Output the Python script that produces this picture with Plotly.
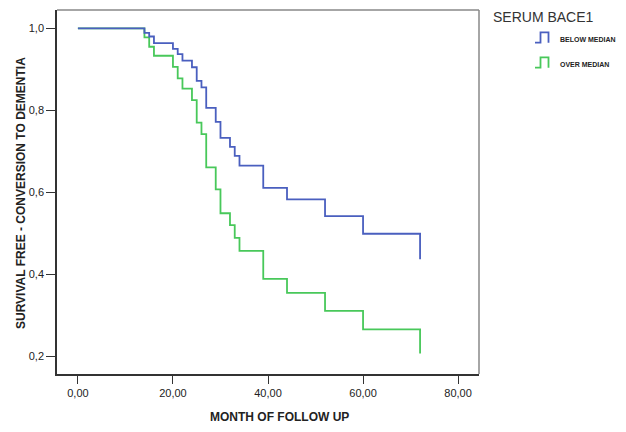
import plotly.graph_objects as go

# Kaplan-Meier step data (months, survival probability)
below_times = [0, 14, 15, 16, 20, 21, 22, 24, 25, 26, 27, 29, 30, 32, 33, 34, 39, 44, 52, 60, 72]
below_surv = [1.0, 0.989, 0.980, 0.964, 0.950, 0.937, 0.921, 0.905, 0.872, 0.856, 0.806,
              0.772, 0.733, 0.711, 0.689, 0.665, 0.611, 0.583, 0.542, 0.499, 0.437]

over_times = [0, 14, 15, 16, 20, 21, 22, 24, 25, 26, 27, 29, 30, 32, 33, 34, 39, 44, 52, 60, 72]
over_surv = [1.0, 0.978, 0.955, 0.933, 0.906, 0.878, 0.853, 0.825, 0.770, 0.742, 0.661,
             0.607, 0.549, 0.520, 0.489, 0.457, 0.389, 0.355, 0.311, 0.266, 0.207]

x_ticks = [0, 20, 40, 60, 80]
x_tick_labels = ["0,00", "20,00", "40,00", "60,00", "80,00"]
y_ticks = [0.2, 0.4, 0.6, 0.8, 1.0]
y_tick_labels = ["0,2", "0,4", "0,6", "0,8", "1,0"]

legend_title = "SERUM BACE1"
series_names = ["BELOW MEDIAN", "OVER MEDIAN"]

BLUE = "#4a5fbf"
GREEN = "#48c85a"
FONT = "Liberation Sans, Arial, sans-serif"

fig = go.Figure()
fig.add_trace(go.Scatter(x=over_times, y=over_surv, mode="lines", line_shape="hv",
                         line=dict(color=GREEN, width=1.8), name=series_names[1], showlegend=False))
fig.add_trace(go.Scatter(x=below_times, y=below_surv, mode="lines", line_shape="hv",
                         line=dict(color=BLUE, width=1.8), name=series_names[0], showlegend=False))

# page has an 8px body margin; figure coordinates = page coordinates - 8
OFF = 8
W, H = 618, 416
L, R, T, B = 57 - OFF, 479 - OFF, 10 - OFF, 374 - OFF


def px(xp):
    # xp in page pixels
    return (xp - OFF - L) / (R - L)


def py(yp):
    return (B - (yp - OFF)) / (B - T)


shapes = []
annotations = []

# legend title (anchored at the very top of the figure)
annotations.append(dict(x=px(492), y=py(8), xref="paper", yref="paper", text=legend_title,
                        showarrow=False, xanchor="left", yanchor="top", borderpad=0,
                        font=dict(family=FONT, size=14, color="#333")))

for i, (name, col) in enumerate(zip(series_names, [BLUE, GREEN])):
    yc = 37.5 + i * 25
    ylo, yhi = yc + 5.2, yc - 5.2
    path = (f"M {px(535)},{py(ylo)} L {px(540.5)},{py(ylo)} L {px(540.5)},{py(yhi)} "
            f"L {px(548.5)},{py(yhi)} L {px(548.5)},{py(ylo)}")
    shapes.append(dict(type="path", xref="paper", yref="paper", path=path,
                       line=dict(color=col, width=1.8)))
    annotations.append(dict(x=px(558), y=py(yc + 1.5), xref="paper", yref="paper", text=f"<b>{name}</b>",
                            showarrow=False, xanchor="left", yanchor="middle",
                            font=dict(family=FONT, size=7, color="#222")))

# axis titles
annotations.append(dict(x=px(279), y=py(417), xref="paper", yref="paper",
                        text="<b>MONTH OF FOLLOW UP</b>", showarrow=False,
                        xanchor="center", yanchor="middle",
                        font=dict(family=FONT, size=12, color="#222")))
annotations.append(dict(x=px(21), y=py(193), xref="paper", yref="paper",
                        text="<b>SURVIVAL FREE - CONVERSION TO DEMENTIA</b>", showarrow=False,
                        textangle=-90, xanchor="center", yanchor="middle",
                        font=dict(family=FONT, size=12, color="#222")))

# right and top frame (lighter)
shapes.append(dict(type="line", xref="paper", yref="paper", x0=1, x1=1, y0=0, y1=1,
                   line=dict(color="#888", width=1.5)))
shapes.append(dict(type="line", xref="paper", yref="paper", x0=0, x1=1, y0=1, y1=1,
                   line=dict(color="#888", width=1.5)))

fig.update_layout(
    width=W, height=H,
    margin=dict(l=L, r=W - R, t=T, b=H - B, autoexpand=False),
    paper_bgcolor="white", plot_bgcolor="white",
    font=dict(family=FONT, size=11, color="#222"),
    shapes=shapes, annotations=annotations,
    showlegend=False,
)
fig.update_xaxes(range=[-4.4, 84.4], tickvals=x_ticks, ticktext=x_tick_labels,
                 showgrid=False, zeroline=False, showline=True, linecolor="#333", linewidth=1.5,
                 ticks="outside", ticklen=8, tickcolor="#333", tickwidth=1.2,
                 tickfont=dict(family=FONT, size=11, color="#222"), automargin=False)
fig.update_yaxes(range=[0.157, 1.0446], tickvals=y_ticks, ticktext=y_tick_labels,
                 showgrid=False, zeroline=False, showline=True, linecolor="#333", linewidth=1.5,
                 ticks="outside", ticklen=9, tickcolor="#333", tickwidth=1.2,
                 tickfont=dict(family=FONT, size=11, color="#222"), automargin=False)

fig.write_html("out.html")
